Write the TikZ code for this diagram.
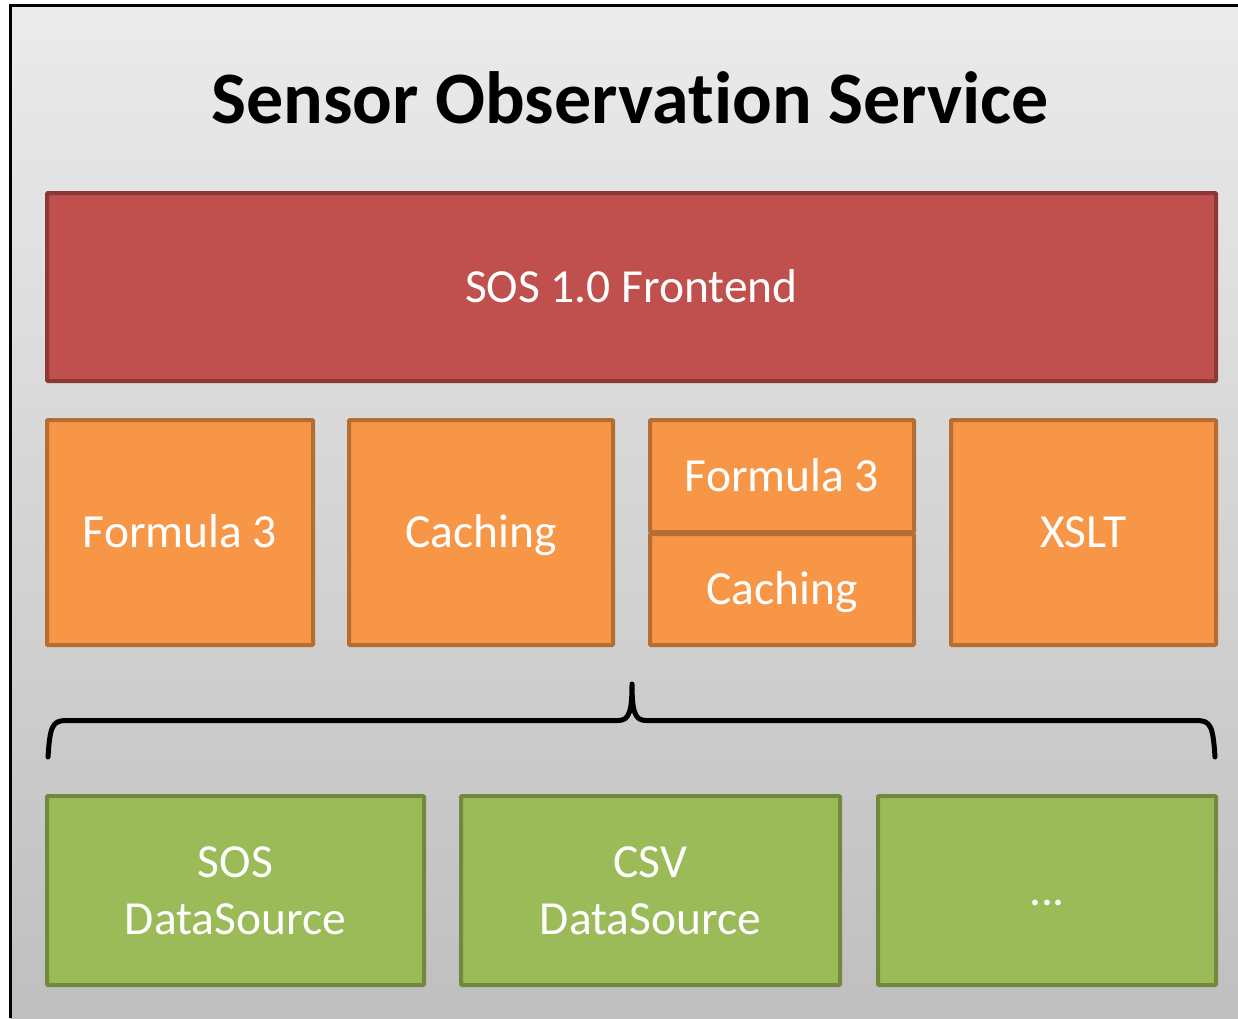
\documentclass[tikz,border=0pt]{standalone}
\usepackage{fontspec}
\setmainfont{Carlito}[Ligatures={NoCommon,NoDiscretionary}]
\definecolor{bgtop}{HTML}{EBEBEB}
\definecolor{bgbot}{HTML}{BFBFBF}
\definecolor{redfill}{HTML}{C0504D}
\definecolor{redline}{HTML}{8C3836}
\definecolor{orfill}{HTML}{F79646}
\definecolor{orline}{HTML}{B66D31}
\definecolor{grfill}{HTML}{9BBB59}
\definecolor{grline}{HTML}{71893F}
\tikzset{
  layerbox/.style={draw, line width=4pt, rounded corners=1pt, inner sep=0pt,
    text=white, align=center, text depth=0pt,
    font=\fontsize{47.5}{57}\selectfont},
  oneline/.style={text height=30.5pt},
  redbox/.style={layerbox, oneline, fill=redfill, draw=redline},
  orbox/.style={layerbox, oneline, fill=orfill, draw=orline},
  grbox/.style={layerbox, fill=grfill, draw=grline},
  bracestroke/.style={line width=5pt, line cap=round, line join=round},
}
\begin{document}
\begin{tikzpicture}[x=1pt, y=-1pt]
  \useasboundingbox (0,0) rectangle (1238,1018);
  % panel background and frame
  \shade[top color=bgtop, bottom color=bgbot] (10,5) rectangle (1238,1018);
  \draw[line width=2.6pt] (10.7,1018) -- (10.7,5.7) -- (1238,5.7);

  % title
  \node[anchor=base, font=\bfseries\fontsize{74}{88}\selectfont] (title) at (630,123) {Sensor Observation Service};

  % frontend layer
  \node[redbox, minimum width=1169pt, minimum height=188pt] (front) at (631.5,287) {SOS 1.0 Frontend};

  % processing modules
  \node[orbox, minimum width=266pt, minimum height=225pt] (formula) at (180,532.5) {Formula 3};
  \node[orbox, minimum width=264pt, minimum height=225pt] (caching) at (481,532.5) {Caching};
  \node[orbox, minimum width=264pt, minimum height=112pt] (formulaB) at (782,476) {Formula 3};
  \node[orbox, minimum width=264pt, minimum height=111pt] (cachingB) at (782,589.5) {Caching};
  \node[orbox, minimum width=265pt, minimum height=225pt] (xslt) at (1083.5,532.5) {XSLT};

  % brace grouping the data sources
  \coordinate (bl) at (48,757);
  \coordinate (br) at (1215,757);
  \coordinate (tip) at (632,684);
  \draw[bracestroke] (bl) .. controls (50,727) and (52,720.5) .. (66,720.5)
    -- (618,720.5) .. controls (629,720.5) and (632,712) .. (tip)
    .. controls (632,712) and (635,720.5) .. (646,720.5)
    -- (1197,720.5) .. controls (1211,720.5) and (1213,727) .. (br);

  % data sources
  \node[grbox, minimum width=377pt, minimum height=189pt] (sosds) at (235.5,890.5) {SOS\\DataSource};
  \node[grbox, minimum width=379pt, minimum height=189pt] (csvds) at (650.5,890.5) {CSV\\DataSource};
  \node[grbox, oneline, minimum width=338pt, minimum height=189pt] (more) at (1047,890.5) {...};
\end{tikzpicture}
\end{document}
